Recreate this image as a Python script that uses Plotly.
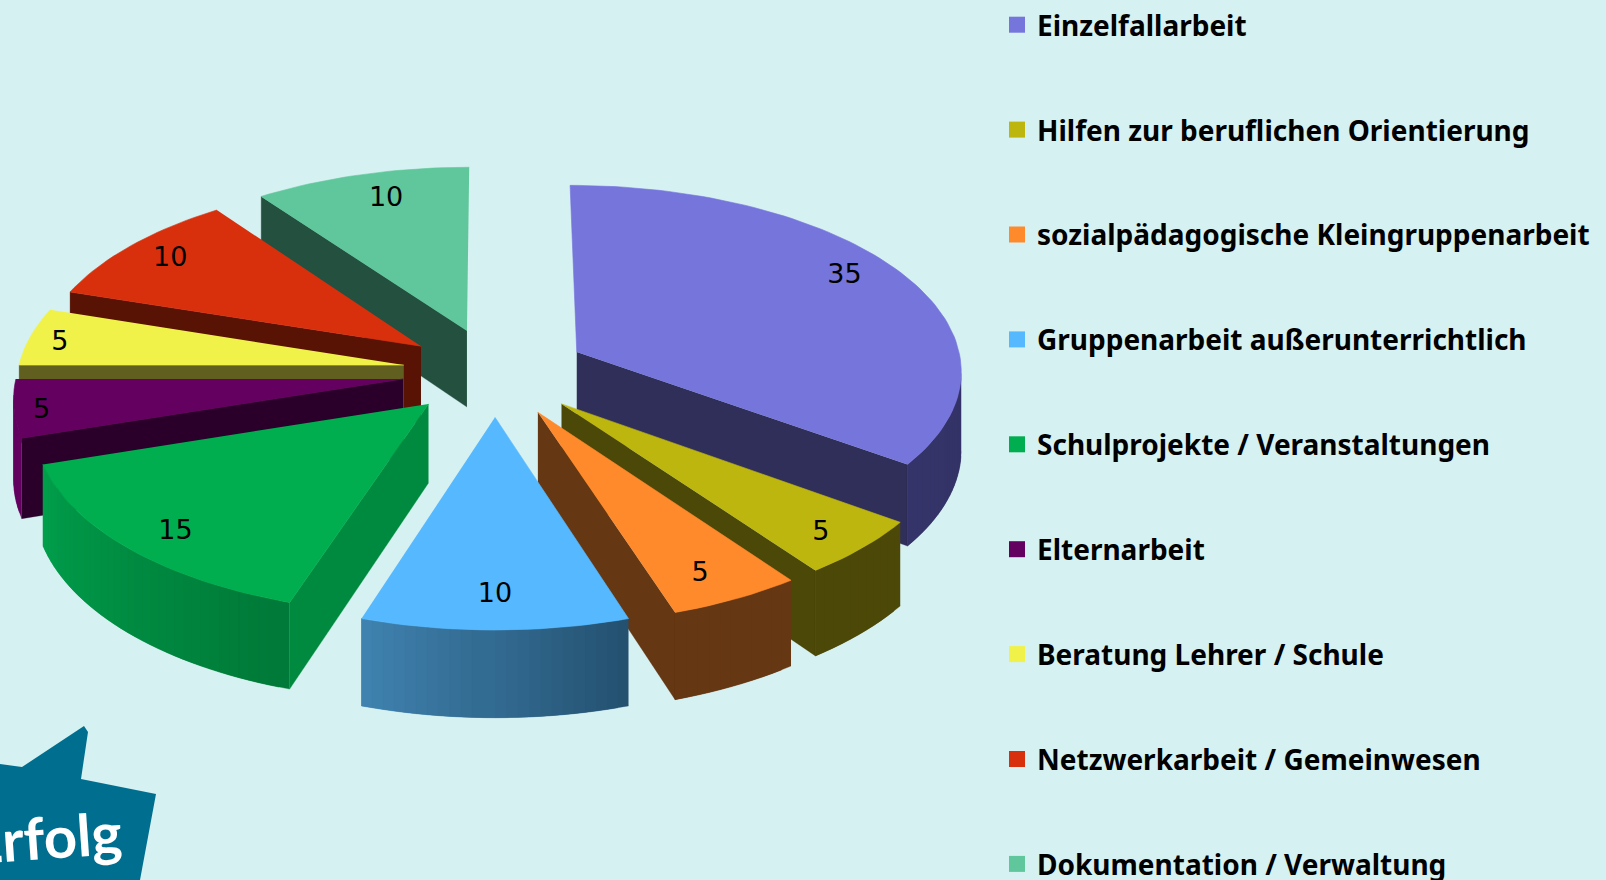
import numpy as np
import plotly.graph_objects as go

categories = ["Einzelfallarbeit", "Hilfen zur beruflichen Orientierung",
              "sozialpädagogische Kleingruppenarbeit", "Gruppenarbeit außerunterrichtlich",
              "Schulprojekte / Veranstaltungen", "Elternarbeit", "Beratung Lehrer / Schule",
              "Netzwerkarbeit / Gemeinwesen", "Dokumentation / Verwaltung"]
values = [35, 5, 5, 10, 15, 5, 5, 10, 10]
colors = ["#7575DB", "#BDB60E", "#FF8A2B", "#56B9FF", "#00AE4F", "#640060", "#F0F24A", "#D8300D", "#5FC79B"]
side_dark = ["#302F5A", "#4C4807", "#663713", "#245170", "#008A3F", "#2A002A", "#605F20", "#581304", "#245040"]
wall_start = ["#302F5A", "#4C4807", "#663713", "#245170", "#007A38", "#640060", "#605F20", "#581304", "#245040"]
wall_end = ["#35346A", "#4C4807", "#663713", "#4184B2", "#00A04C", "#640060", "#605F20", "#581304", "#245040"]
label_r = [0.82, 0.87, 0.83, 0.83, 0.85, 0.93, 0.92, 0.86, 0.75]
label_down = [-11, 5, 9, 4, 7, 5, 4, 0, -13]
draw_order = [8, 0, 7, 6, 5, 4, 1, 2, 3]

BG = "#D6F1F2"
CX, CY, RX, RY, K, H, EXPL = 495, 372, 386, 185, 0.0894, 78, 0.24


def project(px, py, down=0.0):
    s = 1 / (1 - K * py)
    return CX + RX * px * s, CY + RY * py * s + down * s


def hex2rgb(h):
    return np.array([int(h[i:i + 2], 16) for i in (1, 3, 5)], dtype=float)


def mix(a, b, t):
    c = hex2rgb(a) * (1 - t) + hex2rgb(b) * t
    return "rgb(%d,%d,%d)" % tuple(c.round())


def poly(xs, ys, color, lw=0.6):
    return go.Scatter(x=list(xs), y=list(ys), mode="lines", fill="toself", fillcolor=color,
                      line=dict(color=color, width=lw), showlegend=False, hoverinfo="skip")


def visible(p, q, inner):
    """An extruded edge p-q shows only if 'down' points away from the inside of the slice."""
    ex, ey = q[0] - p[0], q[1] - p[1]
    down_side = ex * 1.0
    in_side = ex * (inner[1] - p[1]) - ey * (inner[0] - p[0])
    return down_side * in_side < 0


def quad(x0, y0, x1, y1):
    pts = [project(x0, y0), project(x1, y1), project(x1, y1, H), project(x0, y0, H)]
    return [p[0] for p in pts], [p[1] for p in pts]


fig = go.Figure()

# legend entries
for name, col in zip(categories, colors):
    fig.add_trace(go.Scatter(x=[None], y=[None], mode="markers", name=name, legendgroup=name,
                             marker=dict(symbol="square", size=16, color=col)))

edges = np.cumsum([0] + values) / sum(values) * 2 * np.pi
label_x, label_y = {}, {}

for i in draw_order:
    a0, a1 = edges[i], edges[i + 1]
    mid = (a0 + a1) / 2
    ox, oy = EXPL * np.sin(mid), -EXPL * np.cos(mid)
    th = np.linspace(a0, a1, int(max(6, (a1 - a0) * 40)))
    arc_x = ox + np.sin(th)
    arc_y = oy - np.cos(th)
    inner = project(ox + 0.6 * np.sin(mid), oy - 0.6 * np.cos(mid))

    faces = []
    for a in (a0, a1):
        ex, ey = ox + np.sin(a), oy - np.cos(a)
        p, q = project(ox, oy), project(ex, ey)
        # faces that are almost edge-on are left out
        if visible(p, q, inner) and abs(q[0] - p[0]) > 10:
            fx, fy = quad(ox, oy, ex, ey)
            faces.append(((oy + ey) / 2, fx, fy, side_dark[i]))
    n = len(th) - 1
    for j in range(n):
        if not visible(project(arc_x[j], arc_y[j]), project(arc_x[j + 1], arc_y[j + 1]), inner):
            continue
        k = min(j + 2, n)  # overlap the next segment so that no seams show
        fx, fy = quad(arc_x[j], arc_y[j], arc_x[k], arc_y[k])
        faces.append(((arc_y[j] + arc_y[j + 1]) / 2, fx, fy,
                      mix(wall_start[i], wall_end[i], j / max(n - 1, 1))))
    for _, fx, fy, c in sorted(faces, key=lambda f: f[0]):
        fig.add_trace(poly(fx, fy, c, 0.3))

    top = [project(ox, oy)] + [project(x, y) for x, y in zip(arc_x, arc_y)]
    fig.add_trace(poly([p[0] for p in top], [p[1] for p in top], colors[i]))
    r = label_r[i]
    lx, ly = project(ox + r * np.sin(mid), oy - r * np.cos(mid), label_down[i])
    label_x[i], label_y[i] = lx, ly

# value labels
fig.add_trace(go.Scatter(x=[label_x[i] for i in range(len(values))],
                         y=[label_y[i] for i in range(len(values))],
                         text=[str(v) for v in values], mode="text",
                         textfont=dict(family="DejaVu Sans", size=27, color="black"),
                         showlegend=False, hoverinfo="skip"))

logo_path = "M0,764 L22,767 L84,726 L88,732 L81,779 L156,794 L140,880 L0,880 Z"
fig.update_layout(
    width=1606, height=880, margin=dict(l=0, r=0, t=0, b=0),
    paper_bgcolor=BG, plot_bgcolor=BG,
    xaxis=dict(range=[0, 1606], visible=False, fixedrange=True),
    yaxis=dict(range=[880, 0], visible=False, fixedrange=True),
    legend=dict(x=997 / 1606, y=1, xanchor="left", yanchor="top", tracegroupgap=65.5,
                bgcolor="rgba(0,0,0,0)", maxheight=1000,
                font=dict(family="Noto Sans", size=28, color="black", weight=700)),
    shapes=[dict(type="path", path=logo_path, fillcolor="#006F8F", line=dict(width=0), layer="below")],
    annotations=[
        dict(x=126, y=836, text="Erfolg", showarrow=False, xanchor="right", yanchor="middle",
             textangle=-4, font=dict(family="Lato", size=58, color="white", weight=700)),
        dict(x=126, y=888, text="aus", showarrow=False, xanchor="right", yanchor="middle",
             font=dict(family="Lato", size=50, color="white", weight=700)),
    ],
)
fig.write_html("out.html", config={"displayModeBar": False},
               post_script="document.body.style.margin='0';document.body.style.background='%s';" % BG)
